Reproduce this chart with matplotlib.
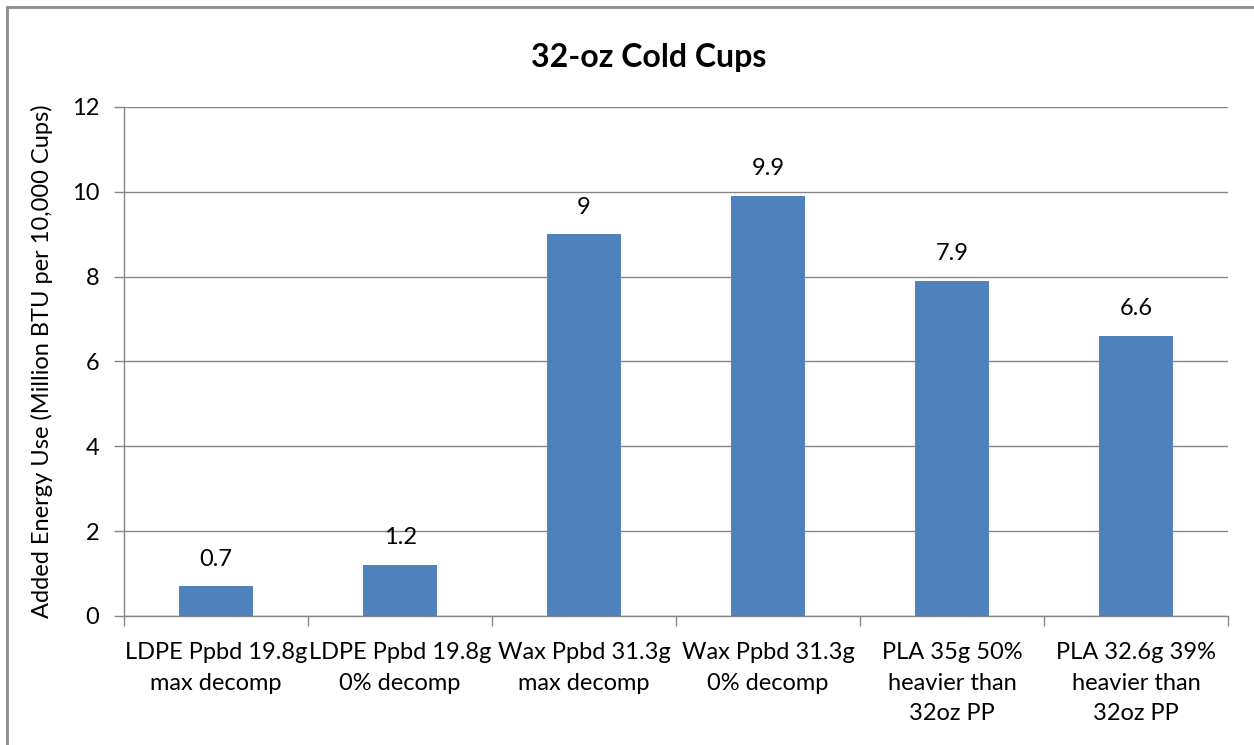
import matplotlib
matplotlib.use("Agg")
import matplotlib.pyplot as plt
import numpy as np
from matplotlib.patches import Rectangle

plt.rcParams["font.family"] = ["Lato", "DejaVu Sans"]

categories = [
    "LDPE Ppbd 19.8g\nmax decomp",
    "LDPE Ppbd 19.8g\n0% decomp",
    "Wax Ppbd 31.3g\nmax decomp",
    "Wax Ppbd 31.3g\n0% decomp",
    "PLA 35g 50%\nheavier than\n32oz PP",
    "PLA 32.6g 39%\nheavier than\n32oz PP",
]
energy = [0.7, 1.2, 9, 9.9, 7.9, 6.6]
yticks = [0, 2, 4, 6, 8, 10, 12]

BAR_C = "#4F81BD"
GRID_C = "#868686"
FS = 17

fig = plt.figure(figsize=(12.54, 7.45), dpi=100)
ax = fig.add_axes([0.0989, 0.1732, 0.8804, 0.6832])

x = np.arange(len(categories))
ax.bar(x, energy, 0.40, color=BAR_C, zorder=3)
for xi, v in zip(x, energy):
    ax.annotate(f"{v:g}", (xi, v), textcoords="offset points", xytext=(0, 12),
                ha="center", va="bottom", fontsize=FS, color="#000000")

ax.set_xlim(-0.5, len(categories) - 0.5)
ax.set_ylim(0, 12)
ax.set_yticks(yticks)
ax.set_yticklabels([str(t) for t in yticks], fontsize=FS)
ax.yaxis.grid(True, color=GRID_C, linewidth=1.0, zorder=0)

# category labels sit between boundary ticks
ax.set_xticks(x)
ax.set_xticklabels(categories, fontsize=FS, linespacing=1.55)
ax.tick_params(axis="x", length=0, pad=19)
ax.set_xticks(np.arange(-0.5, len(categories)), minor=True)
ax.tick_params(axis="x", which="minor", length=7, color=GRID_C, width=1.0)
ax.tick_params(axis="y", length=7, color=GRID_C, width=1.0, pad=11)

for s in ["top", "right"]:
    ax.spines[s].set_visible(False)
for s in ["left", "bottom"]:
    ax.spines[s].set_color(GRID_C)
    ax.spines[s].set_linewidth(1.0)

ax.set_ylabel("Added Energy Use (Million BTU per 10,000 Cups)", fontsize=FS, labelpad=13)
fig.text(0.5175, 0.923, "32-oz Cold Cups", ha="center", va="center",
         fontsize=23, fontweight="bold")

# chart-area frame
fig.patches.append(Rectangle((7 / 1254, -0.1), 1.2, 1 - 7 / 745 + 0.1,
                             transform=fig.transFigure, fill=False,
                             edgecolor="#8c8c8c", linewidth=2.0))

fig.savefig("out.png", dpi=100)
